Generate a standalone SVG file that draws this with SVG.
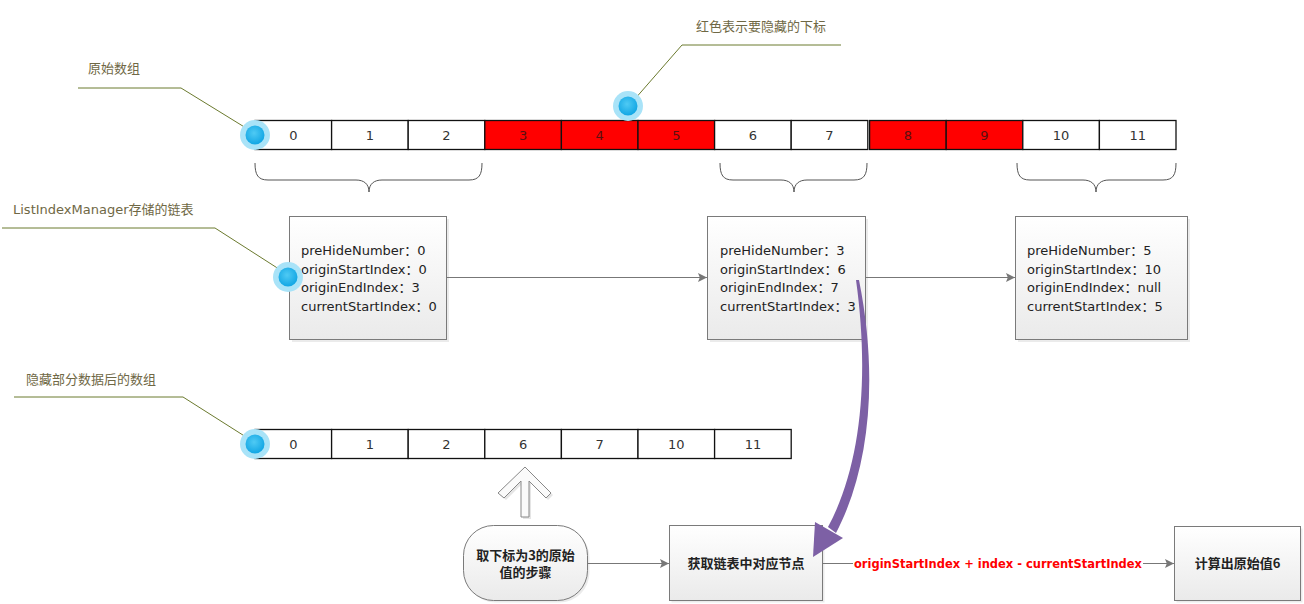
<svg xmlns="http://www.w3.org/2000/svg" width="1304" height="604" viewBox="0 0 1304 604">
<style>
.cell{fill:#fff;stroke:#111;stroke-width:1.3}
.red{fill:#ff0000;stroke:#111;stroke-width:1.3}
.num{font-family:"DejaVu Sans","Noto Sans CJK SC",sans-serif;font-size:13px;fill:#333;text-anchor:middle}
.rnum{fill:#5a1010}
.lbl{font-family:"DejaVu Sans","Noto Sans CJK SC",sans-serif;font-size:13px;fill:#6f6845}
.lead{fill:none;stroke:#6b7a2e;stroke-width:1}
.brace{fill:none;stroke:#555;stroke-width:1}
.box{fill:url(#g);stroke:#7a7a7a;stroke-width:1}
.shadow{fill:#000;opacity:0.08}
.ft{font-family:"DejaVu Sans","Noto Sans CJK SC",sans-serif;font-size:13px;fill:#222}
.ct{font-family:"Noto Sans CJK SC","DejaVu Sans",sans-serif;font-size:13px;fill:#222;font-weight:bold;text-anchor:middle}
.conn{fill:none;stroke:#777;stroke-width:1}
</style>
<defs>
<linearGradient id="g" x1="0" y1="0" x2="0" y2="1">
<stop offset="0" stop-color="#ffffff"/>
<stop offset="1" stop-color="#eaeaea"/>
</linearGradient>
<radialGradient id="bl" cx="0.45" cy="0.4" r="0.6">
<stop offset="0" stop-color="#4fcaf4"/>
<stop offset="1" stop-color="#12a6e4"/>
</radialGradient>
<marker id="ah" viewBox="0 0 10 10" refX="10" refY="5" markerWidth="9" markerHeight="9" markerUnits="userSpaceOnUse" orient="auto">
<path d="M0,0 L10,5 L0,10 L2,5 Z" fill="#777"/>
</marker>
<g id="dot">
<circle r="15" fill="#a9e3f8"/>
<circle r="9.5" fill="url(#bl)"/>
</g>
</defs>

<g id="labels">
<text class="lbl" x="88" y="73">原始数组</text>
<path class="lead" d="M78,88 L181,88 L246,128"/>
<text class="lbl" x="696" y="31">红色表示要隐藏的下标</text>
<path class="lead" d="M841,45 L682,45 L634,100"/>
<text class="lbl" x="13" y="214">ListIndexManager存储的链表</text>
<path class="lead" d="M2,228 L215,228 L282,271"/>
<text class="lbl" x="26" y="384">隐藏部分数据后的数组</text>
<path class="lead" d="M14,397 L183,397 L246,437"/>
</g>

<g id="origin-array">
<rect class="cell" x="255" y="120.5" width="76.6" height="29"/>
<rect class="cell" x="331.6" y="120.5" width="76.6" height="29"/>
<rect class="cell" x="408.2" y="120.5" width="76.6" height="29"/>
<rect class="red" x="484.8" y="120.5" width="76.6" height="29"/>
<rect class="red" x="561.4" y="120.5" width="76.6" height="29"/>
<rect class="red" x="638" y="120.5" width="76.6" height="29"/>
<rect class="cell" x="714.6" y="120.5" width="76.6" height="29"/>
<rect class="cell" x="791.2" y="120.5" width="76.6" height="29"/>
<rect class="red" x="869.6" y="120.5" width="76.6" height="29"/>
<rect class="red" x="946.2" y="120.5" width="76.6" height="29"/>
<rect class="cell" x="1022.8" y="120.5" width="76.6" height="29"/>
<rect class="cell" x="1099.4" y="120.5" width="76.6" height="29"/>
<text class="num" x="293.3" y="140">0</text>
<text class="num" x="369.9" y="140">1</text>
<text class="num" x="446.5" y="140">2</text>
<text class="num rnum" x="523.1" y="140">3</text>
<text class="num rnum" x="599.7" y="140">4</text>
<text class="num rnum" x="676.3" y="140">5</text>
<text class="num" x="752.9" y="140">6</text>
<text class="num" x="829.5" y="140">7</text>
<text class="num rnum" x="907.9" y="140">8</text>
<text class="num rnum" x="984.5" y="140">9</text>
<text class="num" x="1061.1" y="140">10</text>
<text class="num" x="1137.7" y="140">11</text>
<use href="#dot" x="255" y="135"/>
<use href="#dot" x="628" y="106"/>
</g>

<g id="braces">
<path class="brace" d="M255,163 C255,175 258,180 268,180 L356,180 C364,180 369,184 369,192 C369,184 374,180 382,180 L469,180 C479,180 482,175 482,163"/>
<path class="brace" d="M720,163 C720,175 723,180 733,180 L781,180 C789,180 794,184 794,192 C794,184 799,180 807,180 L854,180 C864,180 867,175 867,163"/>
<path class="brace" d="M1017,163 C1017,175 1020,180 1030,180 L1083,180 C1091,180 1096,184 1096,192 C1096,184 1101,180 1109,180 L1163,180 C1173,180 1176,175 1176,163"/>
</g>

<g id="node1">
<rect class="shadow" x="292" y="219" width="157" height="123"/>
<rect class="box" x="289.5" y="216.5" width="157" height="123"/>
<text class="ft" x="301" y="255">preHideNumber：0</text>
<text class="ft" x="301" y="273.5">originStartIndex：0</text>
<text class="ft" x="301" y="292">originEndIndex：3</text>
<text class="ft" x="301" y="310.5">currentStartIndex：0</text>
<use href="#dot" x="288" y="277"/>
</g>

<g id="node2">
<rect class="shadow" x="710" y="219" width="158" height="123"/>
<rect class="box" x="707.5" y="216.5" width="158" height="123"/>
<text class="ft" x="720" y="255">preHideNumber：3</text>
<text class="ft" x="720" y="273.5">originStartIndex：6</text>
<text class="ft" x="720" y="292">originEndIndex：7</text>
<text class="ft" x="720" y="310.5">currentStartIndex：3</text>
</g>

<g id="node3">
<rect class="shadow" x="1018" y="219" width="172" height="123"/>
<rect class="box" x="1015.5" y="216.5" width="172" height="123"/>
<text class="ft" x="1027" y="255">preHideNumber：5</text>
<text class="ft" x="1027" y="273.5">originStartIndex：10</text>
<text class="ft" x="1027" y="292">originEndIndex：null</text>
<text class="ft" x="1027" y="310.5">currentStartIndex：5</text>
</g>

<g id="hidden-array">
<rect class="cell" x="255" y="429.5" width="76.6" height="29"/>
<rect class="cell" x="331.6" y="429.5" width="76.6" height="29"/>
<rect class="cell" x="408.2" y="429.5" width="76.6" height="29"/>
<rect class="cell" x="484.8" y="429.5" width="76.6" height="29"/>
<rect class="cell" x="561.4" y="429.5" width="76.6" height="29"/>
<rect class="cell" x="638" y="429.5" width="76.6" height="29"/>
<rect class="cell" x="714.6" y="429.5" width="76.6" height="29"/>
<text class="num" x="293.3" y="449">0</text>
<text class="num" x="369.9" y="449">1</text>
<text class="num" x="446.5" y="449">2</text>
<text class="num" x="523.1" y="449">6</text>
<text class="num" x="599.7" y="449">7</text>
<text class="num" x="676.3" y="449">10</text>
<text class="num" x="752.9" y="449">11</text>
<use href="#dot" x="255" y="444"/>
</g>

<g id="up-arrow">
<path d="M527,469 L553,495 L548,500 L531,483 L531,519 L523,519 L523,483 L506,500 L500,495 Z" fill="#000" opacity="0.1"/>
<path d="M525,467 L551,493 L546,498 L529,481 L529,517 L521,517 L521,481 L504,498 L498,493 Z" fill="#fafafa" stroke="#888" stroke-width="1"/>
</g>

<g id="start">
<rect class="shadow" x="465.5" y="527.5" width="124" height="75" rx="30"/>
<rect x="463.5" y="525.5" width="124" height="75" rx="30" fill="url(#g)" stroke="#7a7a7a"/>
<text class="ct" x="525.5" y="559.5">取下标为3的原始</text>
<text class="ct" x="525.5" y="576.5">值的步骤</text>
</g>

<g id="find-node">
<rect class="shadow" x="671.5" y="527.5" width="153" height="75"/>
<rect class="box" x="669.5" y="525.5" width="153" height="75"/>
<text class="ct" x="746" y="567.5">获取链表中对应节点</text>
</g>

<g id="result">
<rect class="shadow" x="1176.5" y="528.5" width="126" height="74"/>
<rect class="box" x="1174.5" y="526.5" width="126" height="74"/>
<text class="ct" x="1237.5" y="567.5">计算出原始值6</text>
</g>

<g id="connectors">
<line class="conn" x1="446.5" y1="277.5" x2="707" y2="277.5" marker-end="url(#ah)"/>
<line class="conn" x1="865.5" y1="277.5" x2="1015" y2="277.5" marker-end="url(#ah)"/>
<line class="conn" x1="587.5" y1="563.5" x2="669" y2="563.5" marker-end="url(#ah)"/>
<line class="conn" x1="822.5" y1="563.5" x2="1174" y2="563.5" marker-end="url(#ah)"/>
<rect x="853" y="555" width="290" height="16" fill="#fff"/>
<text x="854" y="568" font-family="DejaVu Sans, Noto Sans CJK SC, sans-serif" font-size="13" font-weight="bold" fill="#ff0000" textLength="288" lengthAdjust="spacingAndGlyphs">originStartIndex + index - currentStartIndex</text>
<path d="M856,280 C870,380 860,468 828,527 L836,533 C869,470 879,380 859,280 Z" fill="#7d60a5"/>
<path d="M813,557 L815,522 L843,538 Z" fill="#7d60a5"/>
</g>
</svg>
